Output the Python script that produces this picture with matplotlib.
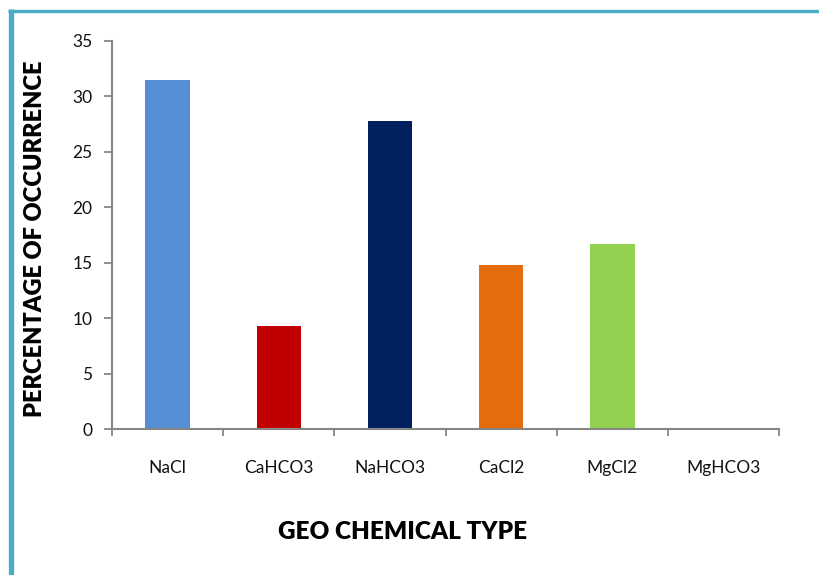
import matplotlib
matplotlib.use("Agg")
import matplotlib.pyplot as plt
from matplotlib.lines import Line2D

categories = ["NaCl", "CaHCO3", "NaHCO3", "CaCl2", "MgCl2", "MgHCO3"]
values = [31.5, 9.3, 27.8, 14.8, 16.7, 0.0]
colors = ["#558ED5", "#C00000", "#002060", "#E46C0A", "#92D050", "#7F7F7F"]
yticks = [0, 5, 10, 15, 20, 25, 30, 35]

plt.rcParams["font.family"] = ["Lato", "DejaVu Sans"]

fig = plt.figure(figsize=(8.19, 5.75), dpi=100)
ax = fig.add_axes([0.1368, 0.2539, 0.8144, 0.6748])

x = list(range(len(categories)))
ax.bar(x, values, width=0.4, color=colors, zorder=2)

axis_grey = "#868686"
ax.set_xlim(-0.5, len(categories) - 0.5)
ax.set_ylim(0, 35)
ax.set_yticks(yticks)
ax.set_yticklabels([str(t) for t in yticks], fontsize=12.5, color="#111111")
ax.tick_params(axis="y", direction="out", length=6, width=1.3, color=axis_grey, pad=8)

# category labels centred under each bar, tick marks at category boundaries
ax.set_xticks(x)
ax.set_xticklabels(categories, fontsize=12.5, color="#111111")
ax.tick_params(axis="x", which="major", length=0, pad=22)
ax.set_xticks([i - 0.5 for i in range(len(categories) + 1)], minor=True)
ax.tick_params(axis="x", which="minor", direction="out", length=5, width=1.3, color=axis_grey)

for side in ("top", "right"):
    ax.spines[side].set_visible(False)
for side in ("left", "bottom"):
    ax.spines[side].set_color(axis_grey)
    ax.spines[side].set_linewidth(1.5)

fig.text(0.043, 0.585, "PERCENTAGE OF OCCURRENCE", rotation=90, ha="center", va="center",
         fontsize=17, fontweight="heavy", color="#000000")
fig.text(0.492, 0.075, "GEO CHEMICAL TYPE", ha="center", va="center",
         fontsize=17.5, fontweight="heavy", color="#000000")

# frame lines along the top and left edge of the chart area
border = "#4BACC6"
fig.add_artist(Line2D([8 / 819, 1.0], [1 - 10.5 / 575, 1 - 10.5 / 575], transform=fig.transFigure,
                      color=border, linewidth=2.4, solid_capstyle="butt"))
fig.add_artist(Line2D([10.5 / 819, 10.5 / 819], [0.0, 1 - 9 / 575], transform=fig.transFigure,
                      color=border, linewidth=3.8, solid_capstyle="butt"))

fig.savefig("out.png", dpi=100)
